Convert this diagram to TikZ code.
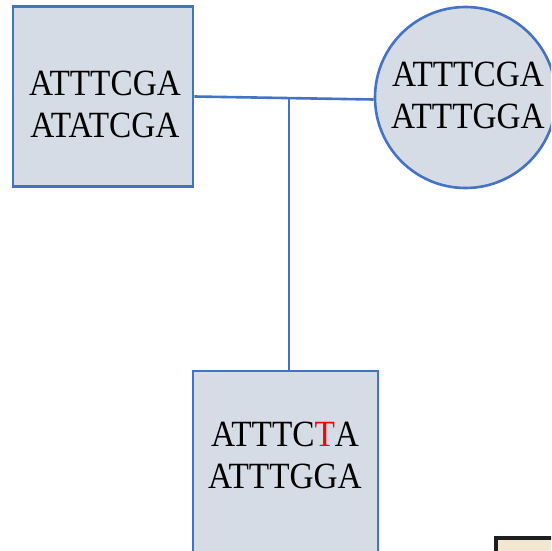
\documentclass[tikz,border=0pt]{standalone}
\usepackage{fontspec}
\newfontfamily\seqfont[FakeStretch=0.9]{Liberation Serif}
\definecolor{boxfill}{HTML}{D6DCE5}
\definecolor{boxline}{HTML}{4472C4}
\definecolor{frameline}{HTML}{1E1E1E}
\definecolor{framein}{HTML}{F2E8D2}
\begin{document}
\begin{tikzpicture}[x=1pt,y=-1pt,
  shapebox/.style={draw=boxline, fill=boxfill, line width=2.6pt, inner sep=0pt},
  seqtext/.style={font=\seqfont\fontsize{37}{42}\selectfont, align=center, inner sep=0pt, anchor=center},
  link/.style={draw=boxline, line width=2.6pt}]
\useasboundingbox (0,0) rectangle (551,551);
\clip (0,0) rectangle (551,551);
% shapes
\node[shapebox, rectangle, minimum width=180pt, minimum height=180pt] (sq1) at (103,96.5) {};
\node[shapebox, circle, minimum size=181pt] (circ) at (465.5,97.5) {};
\node[shapebox, rectangle, minimum width=185pt, minimum height=185pt] (sq3) at (285.5,463.5) {};
% texts
\node[seqtext] (t1) at (105,104) {ATTTCGA\\ATATCGA};
\node[seqtext] (t2) at (468,95) {ATTTCGA\\ATTTGGA};
\node[seqtext] (t3) at (285,455) {ATTTC{\color{red}T}A\\ATTTGGA};
% connectors
\draw[link] (sq1.east) -- coordinate[pos=0.527] (j) ([yshift=-2pt]circ.west);
\draw[link] (j) -- (j |- sq3.north);
% partial frame in the corner
\draw[draw=frameline, line width=4pt, fill=framein] (496,538) rectangle (620,620);
\end{tikzpicture}
\end{document}
